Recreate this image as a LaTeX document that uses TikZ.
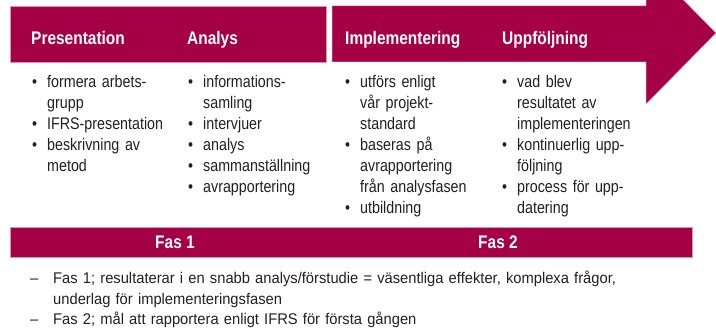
\documentclass[tikz,border=0pt]{standalone}
\usepackage{fontspec}
\setmainfont[FakeStretch=0.85]{Liberation Sans}
\newfontfamily\footfont[FakeStretch=0.95]{Liberation Sans}
\definecolor{crim}{RGB}{165,0,70}
\definecolor{edge}{RGB}{215,150,180}
\definecolor{txt}{RGB}{35,31,32}
\newcommand\bl{\makebox[15pt][l]{\textbullet}}
\newcommand\ind{\hspace*{15pt}}
\newcommand\dsh{\makebox[23pt][l]{–}}
\tikzset{
  band/.style={fill=crim, draw=edge, line width=0.5pt},
  head/.style={anchor=base west, inner sep=0pt, text=white, font=\fontsize{18.2}{21}\selectfont\bfseries},
  fas/.style={anchor=base, inner sep=0pt, text=white, font=\fontsize{18.2}{21}\selectfont\bfseries},
  col/.style={anchor=base west, inner sep=0pt, text width=160pt, align=left, text=txt, font=\fontsize{16.8}{21}\selectfont},
  foot/.style={anchor=base west, inner sep=0pt, text width=680pt, align=left, text=txt, font=\footfont\fontsize{15.5}{20.5}\selectfont}
}
\begin{document}
\begin{tikzpicture}[x=1pt,y=-1pt]
\useasboundingbox (0,0) rectangle (716,331);
\begin{scope}
\clip (0,0) rectangle (716,331);
\path[band] (10,6) rectangle (326,62);
\path[band] (332,6) -- (646,6) -- (646,-38) -- (716,33) -- (646,104) -- (646,62) -- (332,62) -- cycle;
\end{scope}
\path[band] (10,227) rectangle (692,257);
\node[head] (h1) at (31,45) {Presentation};
\node[head] (h2) at (187,45) {Analys};
\node[head] (h3) at (345,45) {Implementering};
\node[head] (h4) at (502,45) {Uppföljning};
\node[col] (c1) at (32,88) {\bl formera arbets-\\\ind grupp\\\bl IFRS-presentation\\\bl beskrivning av\\\ind metod};
\node[col] (c2) at (188,88) {\bl informations-\\\ind samling\\\bl intervjuer\\\bl analys\\\bl sammanställning\\\bl avrapportering};
\node[col] (c3) at (345,88) {\bl utförs enligt\\\ind vår projekt-\\\ind standard\\\bl baseras på\\\ind avrapportering\\\ind från analysfasen\\\bl utbildning};
\node[col] (c4) at (502,88) {\bl vad blev\\\ind resultatet av\\\ind implementeringen\\\bl kontinuerlig upp-\\\ind följning\\\bl process för upp-\\\ind datering};
\node[fas] (f1) at (175,249) {Fas 1};
\node[fas] (f2) at (498,249) {Fas 2};
\node[foot] (n1) at (30,284) {\dsh Fas 1; resultaterar i en snabb analys/förstudie = väsentliga effekter, komplexa frågor,\\\hspace*{23pt}underlag för implementeringsfasen\\\dsh Fas 2; mål att rapportera enligt IFRS för första gången};
\end{tikzpicture}
\end{document}
